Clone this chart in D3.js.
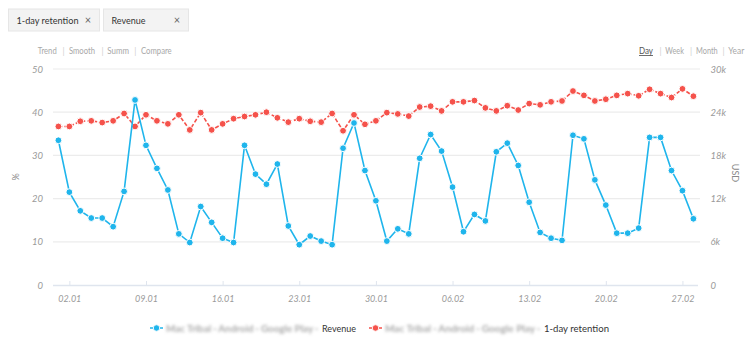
<!DOCTYPE html>
<html><head><meta charset="utf-8">
<script src="https://cdn.jsdelivr.net/npm/d3@7/dist/d3.min.js"></script>
<style>
html,body{margin:0;padding:0;background:#fff;}
svg{display:block;font-family:Lato,"Open Sans",sans-serif;}
</style></head>
<body><svg id="c" width="748" height="338"></svg>
<script>
// ---- data ----
const dates = ["01.01","02.01","03.01","04.01","05.01","06.01","07.01","08.01","09.01","10.01",
"11.01","12.01","13.01","14.01","15.01","16.01","17.01","18.01","19.01","20.01",
"21.01","22.01","23.01","24.01","25.01","26.01","27.01","28.01","29.01","30.01","31.01",
"01.02","02.02","03.02","04.02","05.02","06.02","07.02","08.02","09.02","10.02",
"11.02","12.02","13.02","14.02","15.02","16.02","17.02","18.02","19.02","20.02",
"21.02","22.02","23.02","24.02","25.02","26.02","27.02","28.02"];
// Revenue (USD, thousands) - right axis
const revenue = [20.1,12.9,10.3,9.3,9.3,8.1,13.0,25.7,19.4,16.2,
13.2,7.1,5.9,10.9,8.7,6.5,5.9,19.4,15.4,14.0,
16.8,8.2,5.6,6.8,6.1,5.6,19.0,22.5,15.9,11.7,6.1,
7.8,7.1,17.6,20.9,18.6,13.6,7.4,9.8,8.9,18.5,
19.7,16.6,11.5,7.3,6.5,6.2,20.8,20.3,14.6,11.1,
7.2,7.2,7.9,20.5,20.5,15.9,13.1,9.2];
// 1-day retention (%) - left axis
const retention = [36.7,36.7,37.9,38.0,37.6,38.0,39.7,36.7,39.4,38.0,
37.3,39.4,35.9,39.9,35.9,37.3,38.5,39.0,39.4,40.0,
38.7,37.7,38.5,37.9,37.7,39.7,35.7,39.4,37.2,38.0,39.9,
39.6,39.1,41.2,41.4,40.3,42.4,42.4,42.7,41.0,40.3,
41.5,40.5,42.0,41.7,42.4,42.6,44.9,43.9,42.6,43.0,
43.9,44.3,43.8,45.3,44.3,43.4,45.4,43.7];
const xTickLabels = ["02.01","09.01","16.01","23.01","30.01","06.02","13.02","20.02","27.02"];
const leftTicks = [0,10,20,30,40,50];
const rightTicks = [0,6,12,18,24,30];
const tags = ["1-day retention","Revenue"];
const modes = ["Trend","Smooth","Summ","Compare"];
const periods = ["Day","Week","Month","Year"];

const BLUE = "#1fb5ec", RED = "#f5524b";
const svg = d3.select("#c");
const defs = svg.append("defs");
defs.append("filter").attr("id","blur").attr("x","-10%").attr("y","-80%").attr("width","120%").attr("height","260%")
  .append("feGaussianBlur").attr("stdDeviation",1.8);

// ---- scales ----
const x = d3.scalePoint().domain(dates).range([58.4, 693.4]);
const yL = d3.scaleLinear().domain([0,50]).range([285,69]);
const yR = d3.scaleLinear().domain([0,30]).range([285,69]);
const gridX0 = 53, gridX1 = 700;

// ---- tags ----
const tagBoxes = [[8,91,62],[103,85,34]];
tags.forEach((t,i)=>{
  const g = svg.append("g").attr("transform",`translate(${tagBoxes[i][0]},8.5)`);
  g.append("rect").attr("x",0.5).attr("y",0.5).attr("width",tagBoxes[i][1]).attr("height",22)
    .attr("fill","#f3f3f3").attr("stroke","#e6e6e6");
  g.append("text").attr("x",8.5).attr("y",15).attr("font-size",10).attr("fill","#333")
    .attr("textLength",tagBoxes[i][2]).attr("lengthAdjust","spacingAndGlyphs").text(t);
  g.append("text").attr("x",tagBoxes[i][1]-11).attr("y",15).attr("font-size",11).attr("fill","#666")
    .attr("text-anchor","middle").text("×");
});

// ---- mode links ----
const modeX = [37.7,69,107.3,141];
const modeW = [19,26,21.7,30.7];
const pipeX1 = [62.5,101.5,134.3];
modes.forEach((m,i)=>svg.append("text").attr("x",modeX[i]).attr("y",54).attr("font-size",8.5).attr("fill","#a8a8a8")
  .attr("textLength",modeW[i]).attr("lengthAdjust","spacingAndGlyphs").text(m));
pipeX1.forEach(px=>svg.append("text").attr("x",px).attr("y",54).attr("font-size",8.5).attr("fill","#d0d0d0").text("|"));
const perX = [639,665.3,696,728.3];
const perW = [14,18.7,21.7,16];
const pipeX2 = [659.5,690,722.5];
periods.forEach((p,i)=>{
  const t = svg.append("text").attr("x",perX[i]).attr("y",54).attr("font-size",8.5)
    .attr("fill", i===0 ? "#555" : "#a8a8a8")
    .attr("textLength",perW[i]).attr("lengthAdjust","spacingAndGlyphs").text(p);
  if(i===0) t.attr("text-decoration","underline");
});
pipeX2.forEach(px=>svg.append("text").attr("x",px).attr("y",54).attr("font-size",8.5).attr("fill","#d0d0d0").text("|"));

// ---- grid ----
svg.append("g").selectAll("line").data(leftTicks.filter(d=>d>0)).join("line")
  .attr("x1",gridX0).attr("x2",gridX1).attr("y1",d=>yL(d)).attr("y2",d=>yL(d))
  .attr("stroke","#ececec").attr("stroke-width",1.2);

// left axis labels
svg.append("g").selectAll("text").data(leftTicks).join("text")
  .attr("x",43).attr("y",d=>yL(d)+3.5).attr("text-anchor","end")
  .attr("font-size",9.5).attr("font-style","italic").attr("fill","#9a9a9a").text(d=>d);
// right axis labels
svg.append("g").selectAll("text").data(rightTicks).join("text")
  .attr("x",710.5).attr("y",d=>yR(d)+3.5).attr("text-anchor","start")
  .attr("font-size",9.5).attr("font-style","italic").attr("fill","#9a9a9a").text(d=>d===0?"0":d+"k");
svg.append("text").attr("transform","translate(19,177) rotate(-90)").attr("text-anchor","middle")
  .attr("font-size",9).attr("fill","#888").text("%");
svg.append("text").attr("transform","translate(732,173) rotate(90)").attr("text-anchor","middle")
  .attr("font-size",9).attr("fill","#888").text("USD");

// ---- x axis ----
const xAxis = d3.axisBottom(x).tickValues(xTickLabels).tickSize(5).tickSizeOuter(0).tickPadding(4);
const gx = svg.append("g").attr("transform","translate(0,285)").call(xAxis);
gx.select(".domain").attr("d",`M${gridX0},0.5H${gridX1-2}`).attr("stroke","#dfe5ee").attr("stroke-width",1.5);
gx.selectAll(".tick line").attr("stroke","#dfe5ee").attr("y1",-4).attr("y2",1);
gx.selectAll(".tick text").attr("font-family","Lato,sans-serif").attr("font-size",9)
  .attr("font-style","italic").attr("fill","#9a9a9a").attr("dy","0.9em");

// ---- lines ----
const lineR = d3.line().x((d,i)=>x(dates[i])).y(d=>yL(d));
const lineB = d3.line().x((d,i)=>x(dates[i])).y(d=>yR(d));
svg.append("path").datum(retention).attr("d",lineR).attr("fill","none").attr("stroke",RED)
  .attr("stroke-width",1.6).attr("stroke-dasharray","4,2");
svg.append("g").selectAll("circle").data(retention).join("circle")
  .attr("cx",(d,i)=>x(dates[i])).attr("cy",d=>yL(d)).attr("r",3.4)
  .attr("fill",RED).attr("stroke","#fff").attr("stroke-width",1);
svg.append("path").datum(revenue).attr("d",lineB).attr("fill","none").attr("stroke",BLUE).attr("stroke-width",1.6);
svg.append("g").selectAll("circle").data(revenue).join("circle")
  .attr("cx",(d,i)=>x(dates[i])).attr("cy",d=>yR(d)).attr("r",3.4)
  .attr("fill",BLUE).attr("stroke","#fff").attr("stroke-width",1);

// ---- legend ----
const legend = [
  {color:BLUE, x:150, blurW:152, name:"Revenue", nameW:34},
  {color:RED, x:369, blurW:155, name:"1-day retention", nameW:65}
];
legend.forEach(l=>{
  const g = svg.append("g").attr("transform",`translate(${l.x},328)`);
  g.append("line").attr("x1",0).attr("x2",13).attr("stroke",l.color).attr("stroke-width",1.5).attr("stroke-dasharray","3,2");
  g.append("circle").attr("cx",6.5).attr("cy",0).attr("r",3.2).attr("fill",l.color).attr("stroke","#fff").attr("stroke-width",0.8);
  g.append("text").attr("x",16).attr("y",3.5).attr("font-size",10).attr("font-weight","bold").attr("fill","#aaa")
    .attr("filter","url(#blur)").attr("textLength",l.blurW).attr("lengthAdjust","spacingAndGlyphs")
    .text("Mac Tribal · Android · Google Play ·");
  g.append("text").attr("x",16+l.blurW+4).attr("y",3.5).attr("font-size",10).attr("fill","#333")
    .attr("textLength",l.nameW).attr("lengthAdjust","spacingAndGlyphs").text(l.name);
});
</script></body></html>
